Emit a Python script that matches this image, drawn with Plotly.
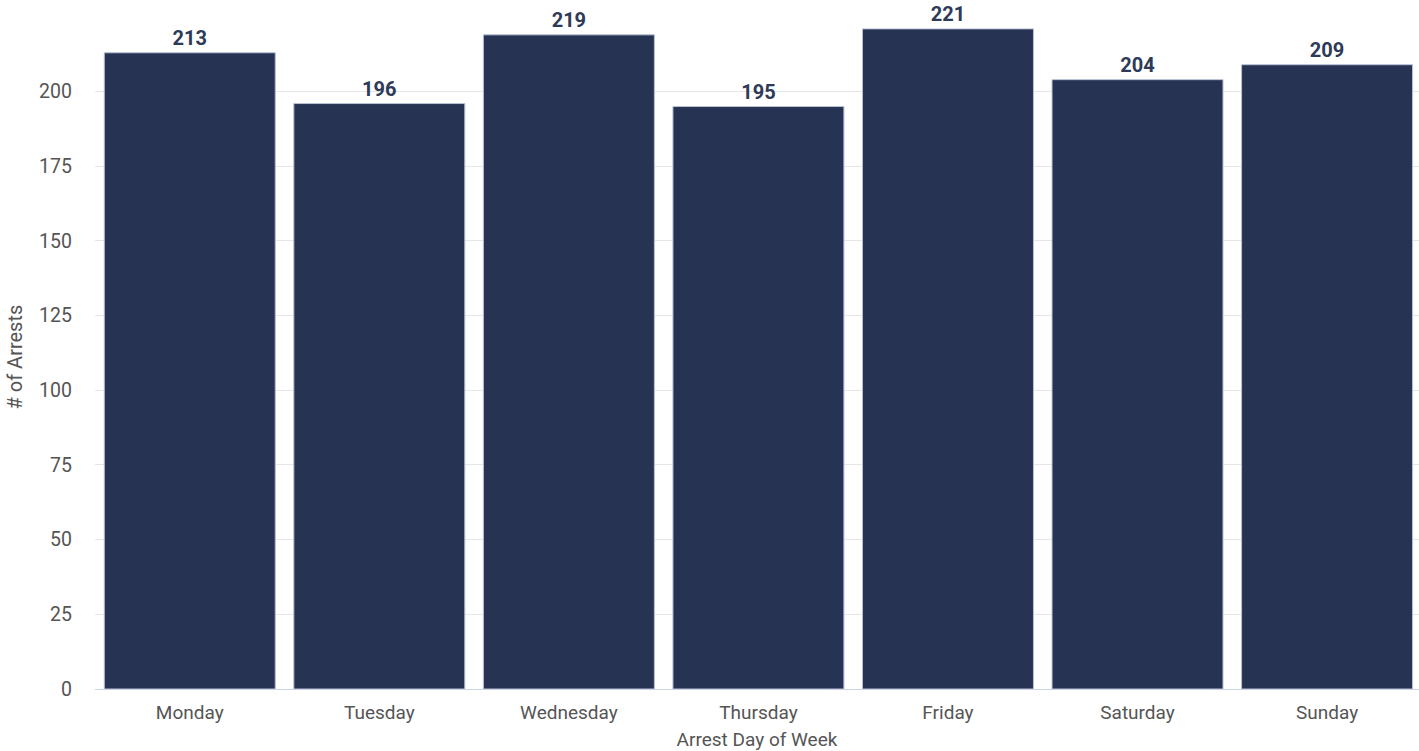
import plotly.graph_objects as go

days = ["Monday", "Tuesday", "Wednesday", "Thursday", "Friday", "Saturday", "Sunday"]
arrests = [213, 196, 219, 195, 221, 204, 209]
y_ticks = [0, 25, 50, 75, 100, 125, 150, 175, 200]

fig = go.Figure(go.Bar(
    x=days, y=arrests,
    marker=dict(color="#263353", line=dict(color="#b8c0d4", width=1)),
    text=[str(v) for v in arrests], textposition="outside",
    textfont=dict(family="Roboto", size=20, color="#2d3a58", weight="bold"),
    cliponaxis=False,
))

fig.update_layout(
    width=1419, height=751,
    margin=dict(l=95, r=0, t=2, b=62),
    paper_bgcolor="white", plot_bgcolor="white",
    bargap=0.098,
    font=dict(family="Roboto", color="#555555"),
    showlegend=False,
    xaxis=dict(
        title=dict(text="Arrest Day of Week", font=dict(size=19, color="#555555"), standoff=10),
        tickfont=dict(size=19, color="#555555"),
        showline=True, linecolor="#ccd3e6", linewidth=1,
        ticks="", showgrid=False, ticklabelstandoff=6,
        range=[-0.5, 6.485],
    ),
    yaxis=dict(
        tickfont=dict(size=19.5, color="#555555"),
        range=[0, 230], tickvals=y_ticks,
        showgrid=True, gridcolor="#e6e6e6", gridwidth=1,
        zeroline=False, ticks="", ticklabelstandoff=22,
    ),
    annotations=[dict(
        text="# of Arrests", textangle=-90,
        xref="paper", yref="paper", x=0, y=(689 - 357) / 687,
        xanchor="center", yanchor="middle", xshift=-80.5,
        showarrow=False, font=dict(family="Roboto", size=20, color="#555555"),
    )],
)

fig.write_html("out.html", post_script="document.body.style.margin='0';",
               config={"displayModeBar": False})
